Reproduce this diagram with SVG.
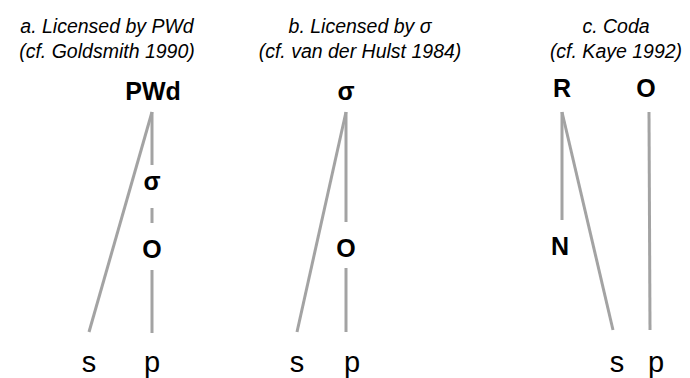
<svg xmlns="http://www.w3.org/2000/svg" width="690" height="378" viewBox="0 0 690 378">
<style>
.title{font-family:"Liberation Sans",Arial,sans-serif;font-style:italic;font-size:19.5px;fill:#000;text-anchor:middle}
.lbl{font-family:"Liberation Sans",Arial,sans-serif;font-weight:bold;font-size:25px;fill:#000;text-anchor:middle}
.seg{font-family:"Liberation Sans",Arial,sans-serif;font-size:29px;fill:#000;text-anchor:middle}
.edge{stroke:#a3a3a3;stroke-width:3;fill:none}
</style>
<rect width="690" height="378" fill="#fff"/>
<g id="titles">
<text class="title" x="107" y="33">a. Licensed by PWd</text>
<text class="title" x="107" y="58">(cf. Goldsmith 1990)</text>
<text class="title" x="360" y="33">b. Licensed by σ</text>
<text class="title" x="360" y="58">(cf. van der Hulst 1984)</text>
<text class="title" x="616" y="33">c. Coda</text>
<text class="title" x="616" y="58">(cf. Kaye 1992)</text>
</g>
<g id="connectors">
<line class="edge" x1="152" y1="112" x2="89" y2="332"/>
<line class="edge" x1="152" y1="112" x2="152" y2="165"/>
<line class="edge" x1="152" y1="208" x2="152" y2="223"/>
<line class="edge" x1="152" y1="270" x2="152" y2="333"/>
<line class="edge" x1="346" y1="112" x2="297" y2="332"/>
<line class="edge" x1="346" y1="112" x2="346" y2="222"/>
<line class="edge" x1="346" y1="268" x2="346" y2="332"/>
<line class="edge" x1="562" y1="112" x2="562" y2="220"/>
<line class="edge" x1="562" y1="112" x2="613" y2="330"/>
<line class="edge" x1="649" y1="112" x2="650" y2="330"/>
</g>
<g id="a-PWd"><text class="lbl" x="153" y="100">PWd</text></g>
<g id="a-sigma"><text class="lbl" x="152" y="190">σ</text></g>
<g id="a-O"><text class="lbl" x="152" y="258">O</text></g>
<g id="a-s"><text class="seg" x="89" y="372">s</text></g>
<g id="a-p"><text class="seg" x="152" y="372">p</text></g>
<g id="b-sigma"><text class="lbl" x="346" y="100">σ</text></g>
<g id="b-O"><text class="lbl" x="346" y="257">O</text></g>
<g id="b-s"><text class="seg" x="297" y="372">s</text></g>
<g id="b-p"><text class="seg" x="352" y="372">p</text></g>
<g id="c-R"><text class="lbl" x="562" y="97">R</text></g>
<g id="c-O"><text class="lbl" x="646" y="97">O</text></g>
<g id="c-N"><text class="lbl" x="560" y="255">N</text></g>
<g id="c-s"><text class="seg" x="617" y="372">s</text></g>
<g id="c-p"><text class="seg" x="656" y="372">p</text></g>
</svg>
